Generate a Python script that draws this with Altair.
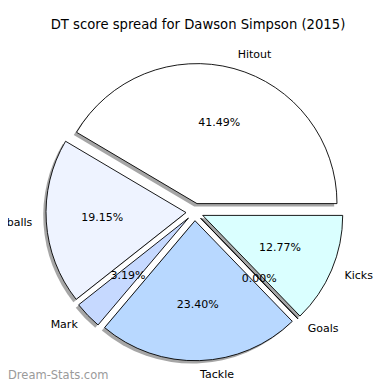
import altair as alt
import pandas as pd

# ---- data ----
labels = ["Hitout", "Handballs", "Mark", "Tackle", "Goals", "Kicks"]
values = [41.49, 19.15, 3.19, 23.40, 0.00, 12.77]
colors = ["#ffffff", "#eef3ff", "#c6d9ff", "#b8d8ff", "#cce6ff", "#daffff"]
title_text = "DT score spread for Dawson Simpson (2015)"
watermark = ["Dream-Stats.com"]

# ---- layout constants (pixels) ----
PAD_TOP = 40
W, H = 374, 374 - PAD_TOP
CX, CY = 186.7, 164.0   # pie centre in view coordinates
R = 140                 # pie radius
D = 8.7                 # explode distance
SH = 2.8                # shadow offset
FONT = "DejaVu Sans"

df = pd.DataFrame({"label": labels, "value": values, "color": colors,
                   "idx": list(range(len(labels)))})

base = (
    alt.Chart(df)
    .transform_joinaggregate(total="sum(value)")
    .transform_window(cum="sum(value)", sort=[alt.SortField("idx", order="ascending")],
                      frame=[None, 0])
    .transform_calculate(p0="2*PI*(datum.cum - datum.value)/datum.total")
    .transform_calculate(p1="2*PI*datum.cum/datum.total")
    .transform_calculate(pm="(datum.p0 + datum.p1)/2")
    .transform_calculate(t0="PI/2 - datum.p0")
    .transform_calculate(t1="PI/2 - datum.p1")
    .transform_calculate(cx=f"{CX} + {D}*cos(datum.pm)")
    .transform_calculate(cy=f"{CY} - {D}*sin(datum.pm)")
    .transform_calculate(sx=f"datum.cx - {SH}")
    .transform_calculate(sy=f"datum.cy + {SH}")
    .transform_calculate(px=f"datum.cx + {0.6 * R}*cos(datum.pm)")
    .transform_calculate(py=f"datum.cy - {0.6 * R}*sin(datum.pm)")
    .transform_calculate(lx=f"datum.cx + {1.1 * R}*cos(datum.pm)")
    .transform_calculate(ly=f"datum.cy - {1.1 * R}*sin(datum.pm)")
    .transform_calculate(pct="format(datum.value/datum.total, '.2%')")
)

shadows = base.mark_arc(radius=R, fill="#4d4d4d", fillOpacity=0.5, strokeWidth=0).encode(
    theta=alt.Theta("t0:Q", scale=None, stack=None),
    theta2="t1:Q",
    x=alt.X("sx:Q", scale=None),
    y=alt.Y("sy:Q", scale=None),
)

wedges = base.mark_arc(radius=R, stroke="black", strokeWidth=0.9).encode(
    theta=alt.Theta("t0:Q", scale=None, stack=None),
    theta2="t1:Q",
    x=alt.X("cx:Q", scale=None),
    y=alt.Y("cy:Q", scale=None),
    fill=alt.Fill("color:N", scale=None),
)

pcts = base.mark_text(font=FONT, fontSize=11, color="black", align="center",
                      baseline="middle").encode(
    x=alt.X("px:Q", scale=None),
    y=alt.Y("py:Q", scale=None),
    text="pct:N",
)

labels_left = base.transform_filter("cos(datum.pm) >= 0").mark_text(
    font=FONT, fontSize=11, color="black", align="left", baseline="middle").encode(
    x=alt.X("lx:Q", scale=None),
    y=alt.Y("ly:Q", scale=None),
    text="label:N",
)

labels_right = base.transform_filter("cos(datum.pm) < 0").mark_text(
    font=FONT, fontSize=11, color="black", align="right", baseline="middle").encode(
    x=alt.X("lx:Q", scale=None),
    y=alt.Y("ly:Q", scale=None),
    text="label:N",
)

wm = alt.Chart(pd.DataFrame({"t": watermark})).mark_text(
    font=FONT, fontSize=11.5, color="#9a9a9a", align="left", baseline="middle").encode(
    x=alt.value(0),
    y=alt.value(376 - 8 - PAD_TOP),
    text="t:N",
)

chart = (
    alt.layer(shadows, wedges, pcts, labels_left, labels_right, wm)
    .properties(
        width=W,
        height=H,
        padding={"left": 0, "top": PAD_TOP, "right": 0, "bottom": 0},
        autosize=alt.AutoSizeParams(type="none"),
        title=alt.TitleParams(title_text, font=FONT, fontSize=13.2, fontWeight="normal",
                              anchor="middle", frame="group", baseline="middle",
                              offset=10, dx=3, color="black"),
    )
    .configure_view(stroke=None)
)

chart.save("out.html", embed_options={"renderer": "svg", "actions": False})
